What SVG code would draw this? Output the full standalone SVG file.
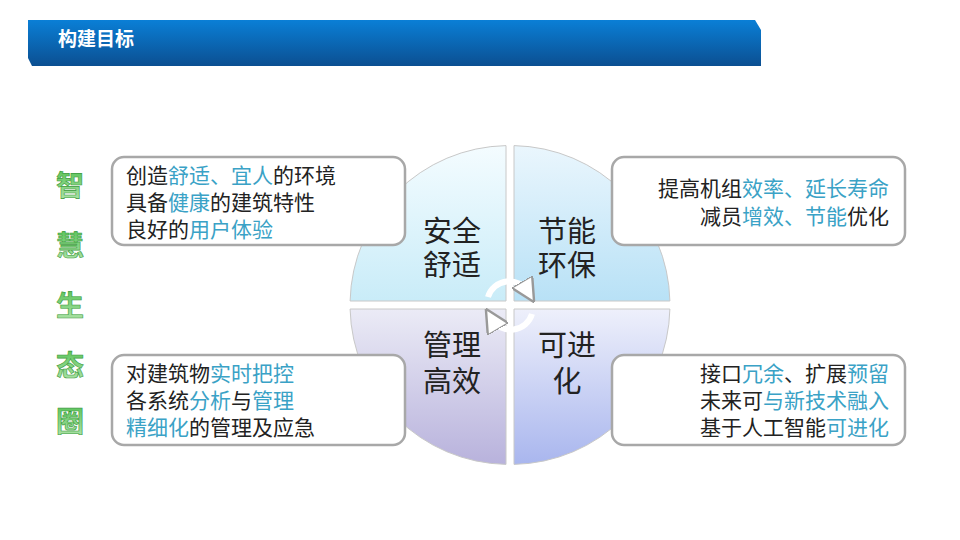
<svg xmlns="http://www.w3.org/2000/svg" width="960" height="540" viewBox="0 0 960 540">
<defs>
<linearGradient id="hdr" x1="0" y1="0" x2="0" y2="1"><stop offset="0" stop-color="#0a7fd6"/><stop offset="1" stop-color="#0b4f91"/></linearGradient>
<linearGradient id="q1" x1="0" y1="0" x2="0" y2="1"><stop offset="0" stop-color="#f4fcff"/><stop offset="1" stop-color="#c9ecf8"/></linearGradient>
<linearGradient id="q2" x1="0" y1="0" x2="0" y2="1"><stop offset="0" stop-color="#eaf6fd"/><stop offset="1" stop-color="#b8e1f6"/></linearGradient>
<linearGradient id="q3" x1="0" y1="0" x2="0" y2="1"><stop offset="0" stop-color="#ebebf6"/><stop offset="1" stop-color="#b8b2dc"/></linearGradient>
<linearGradient id="q4" x1="0" y1="0" x2="0" y2="1"><stop offset="0" stop-color="#eef0fb"/><stop offset="1" stop-color="#a9b6ee"/></linearGradient>
<linearGradient id="grn" x1="0" y1="0" x2="0" y2="1"><stop offset="0" stop-color="#4cbe4c"/><stop offset="1" stop-color="#b6e6b0"/></linearGradient>
<marker id="ah" viewBox="0 0 10 10" refX="5" refY="5" markerWidth="4" markerHeight="4" orient="auto"><path d="M0,0 L10,5 L0,10 z" fill="#fff" stroke="#999" stroke-width="1"/></marker>
</defs>
<style>
.t{font-family:"Liberation Sans","Noto Sans CJK SC",sans-serif;font-size:21px;fill:#222}
.h{fill:#3aa2c6}
.q{font-family:"Liberation Sans","Noto Sans CJK SC",sans-serif;font-size:29px;fill:#222;text-anchor:middle}
.box{fill:#fff;stroke:#a8a8a8;stroke-width:2.5}
.v{font-family:"Noto Sans CJK SC",sans-serif;font-size:28px;font-weight:bold;fill:url(#grn);stroke:#3a9a3a;stroke-width:0.6;text-anchor:middle}
</style>
<rect width="960" height="540" fill="#fff"/>
<g id="header">
<path d="M28,20 H755 L761,30 V66 H32 L28,58 Z" fill="url(#hdr)"/>
<text x="58" y="46" font-family="Noto Sans CJK SC,sans-serif" font-size="19" font-weight="bold" fill="#fff">构建目标</text>
</g>
<g id="vertical-title">
<text class="v" x="70" y="196">智</text>
<text class="v" x="70" y="256">慧</text>
<text class="v" x="70" y="316">生</text>
<text class="v" x="70" y="376">态</text>
<text class="v" x="70" y="432">圈</text>
</g>
<g id="circle" stroke="#c8c8c8" stroke-width="1">
<path d="M506,301 H350.1 A159,159 0 0 1 506,145.6 Z" fill="url(#q1)"/>
<path d="M514,301 V145.6 A159,159 0 0 1 669.9,301 Z" fill="url(#q2)"/>
<path d="M506,309 V464.4 A159,159 0 0 1 350.1,309 Z" fill="url(#q3)"/>
<path d="M514,309 H669.9 A159,159 0 0 1 514,464.4 Z" fill="url(#q4)"/>
</g>
<g id="quad-labels">
<text class="q" x="452" y="242">安全</text><text class="q" x="452" y="276">舒适</text>
<text class="q" x="567" y="242">节能</text><text class="q" x="567" y="276">环保</text>
<text class="q" x="452" y="356">管理</text><text class="q" x="452" y="392">高效</text>
<text class="q" x="567" y="356">可进</text><text class="q" x="567" y="392">化</text>
</g>
<g id="connectors" fill="none" stroke="#aaa" stroke-width="5">
<path d="M488,297 A22,22 0 0 1 528,292" stroke="#fff" stroke-width="6" marker-end="url(#ah)"/>
<path d="M532,314 A22,22 0 0 1 492,319" stroke="#fff" stroke-width="6" marker-end="url(#ah)"/>
</g>
<g id="box-tl"><rect class="box" x="112" y="157" width="293" height="88" rx="12"/>
<text class="t" x="126" y="183">创造<tspan class="h">舒适、宜人</tspan>的环境</text>
<text class="t" x="126" y="210">具备<tspan class="h">健康</tspan>的建筑特性</text>
<text class="t" x="126" y="237">良好的<tspan class="h">用户体验</tspan></text></g>
<g id="box-tr"><rect class="box" x="612" y="157" width="293" height="88" rx="12"/>
<text class="t" x="889" y="196" text-anchor="end">提高机组<tspan class="h">效率、延长寿命</tspan></text>
<text class="t" x="889" y="224" text-anchor="end">减员<tspan class="h">增效、节能</tspan>优化</text></g>
<g id="box-bl"><rect class="box" x="112" y="355" width="293" height="90" rx="12"/>
<text class="t" x="126" y="381">对建筑物<tspan class="h">实时把控</tspan></text>
<text class="t" x="126" y="408">各系统<tspan class="h">分析</tspan>与<tspan class="h">管理</tspan></text>
<text class="t" x="126" y="435"><tspan class="h">精细化</tspan>的管理及应急</text></g>
<g id="box-br"><rect class="box" x="612" y="355" width="293" height="90" rx="12"/>
<text class="t" x="889" y="381" text-anchor="end">接口<tspan class="h">冗余</tspan>、扩展<tspan class="h">预留</tspan></text>
<text class="t" x="889" y="408" text-anchor="end">未来可<tspan class="h">与新技术融入</tspan></text>
<text class="t" x="889" y="435" text-anchor="end">基于人工智能<tspan class="h">可进化</tspan></text></g>
</svg>
